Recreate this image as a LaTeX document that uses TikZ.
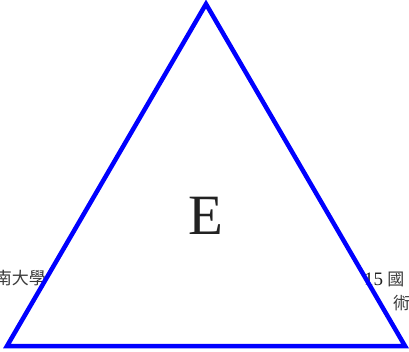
\documentclass[tikz,border=0pt]{standalone}
\usepackage{fontspec}
\setmainfont{Liberation Serif}
\newfontfamily\cjk{Noto Sans CJK TC}
\definecolor{txtgray}{HTML}{3A3A3A}
\definecolor{egray}{HTML}{222222}
\begin{document}
\begin{tikzpicture}[x=1pt,y=-1pt,
  tri/.style={draw=blue,line width=4.5pt,line join=miter},
  lbl/.style={inner sep=0pt,text=txtgray,font=\fontsize{17}{20}\selectfont}]
\useasboundingbox (0,0) rectangle (409,351);
\clip (0,0) rectangle (409,351);
\node[lbl,anchor=base east] (left) at (46,284) {{\cjk 南大學}};
\node[lbl,anchor=base west] (right1) at (364,285) {{\color{egray}\fontsize{19}{20}\selectfont 15} {\cjk 國}};
\node[lbl,anchor=base west] (right2) at (393,309) {{\cjk 術}};
\coordinate (A) at (206,4);
\coordinate (B) at (7,346);
\coordinate (C) at (405,346);
\draw[tri] (A) -- (B) -- (C) -- cycle;
\node[text=egray,font=\fontsize{57}{60}\selectfont,inner sep=0pt] (E) at (206,216) {E};
\end{tikzpicture}
\end{document}
